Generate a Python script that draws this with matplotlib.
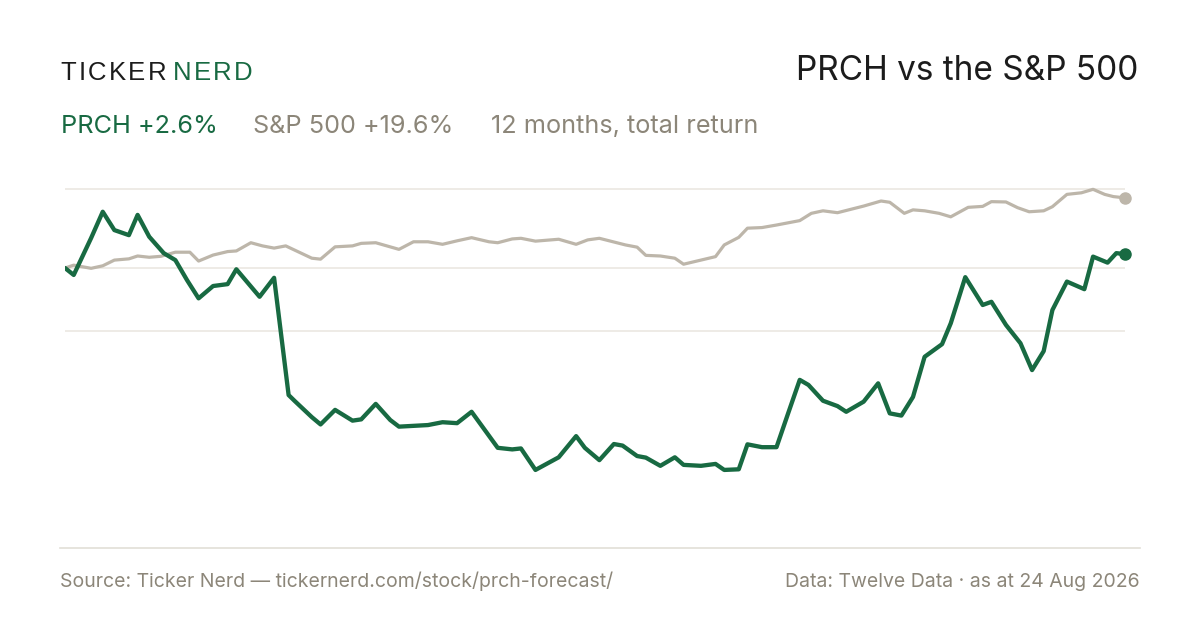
import matplotlib
matplotlib.use("Agg")
import matplotlib.pyplot as plt

# days since start of the 12-month window, and cumulative return (%)
prch_days = [0, 3, 9, 13, 17, 22, 25, 29, 34, 38, 42, 46, 51, 56, 59, 67, 72,
             77, 79, 85, 88, 93, 99, 102, 107, 112, 115, 125, 130, 135, 140,
             149, 154, 157, 162, 170, 176, 179, 184, 189, 192, 197, 200, 205,
             210, 213, 219, 224, 227, 232, 235, 240, 245, 249, 253, 256, 261,
             266, 269, 275, 280, 284, 288, 292, 296, 302, 305, 310, 316, 319,
             324, 329, 333, 337, 340, 345, 351, 354, 359, 362, 365]
prch_ret = [0.0, -2.2, 9.5, 17.8, 12.0, 10.4, 16.8, 9.9, 4.7, 2.5, -3.8, -9.6,
            -5.7, -5.1, -0.4, -9.1, -3.1, -40.2, -42.0, -47.2, -49.5, -44.9,
            -48.3, -47.9, -43.0, -48.1, -50.2, -49.7, -48.8, -49.1, -45.5,
            -56.9, -57.4, -57.1, -63.9, -59.9, -53.2, -56.9, -60.8, -55.7,
            -56.2, -59.5, -60.0, -62.6, -59.9, -62.3, -62.6, -62.0, -63.9,
            -63.7, -55.8, -56.7, -56.7, -46.0, -35.4, -37.0, -42.0, -43.7,
            -45.5, -42.3, -36.5, -46.0, -46.7, -40.8, -28.1, -24.1, -17.5,
            -2.9, -11.7, -10.7, -18.0, -23.8, -32.3, -26.3, -13.3, -4.3, -6.7,
            3.6, 1.7, 4.7, 4.4]

spx_days = [0, 3, 9, 13, 17, 22, 25, 29, 33, 38, 43, 46, 51, 56, 59, 64, 68,
            72, 76, 82, 85, 88, 93, 99, 102, 107, 115, 120, 125, 130, 135, 140,
            146, 149, 154, 157, 162, 170, 176, 180, 184, 193, 197, 200, 205,
            210, 213, 224, 227, 232, 235, 240, 245, 253, 257, 261, 266, 275,
            281, 284, 289, 292, 296, 301, 305, 311, 316, 319, 324, 328, 332,
            337, 340, 345, 350, 354, 358, 361, 365]
spx_ret = [0.0, 0.9, -0.1, 0.7, 2.5, 2.9, 3.8, 3.4, 3.7, 5.0, 5.0, 2.2, 4.1,
           5.2, 5.4, 8.0, 7.0, 6.3, 7.0, 4.4, 3.1, 2.8, 6.7, 7.0, 7.8, 8.0,
           5.9, 8.3, 8.3, 7.5, 8.6, 9.6, 8.3, 8.0, 9.2, 9.4, 8.5, 9.1, 7.5,
           8.9, 9.4, 7.3, 6.6, 4.0, 3.8, 3.1, 1.2, 3.6, 7.3, 9.7, 12.6, 12.8,
           13.6, 15.0, 17.3, 18.1, 17.5, 19.6, 21.2, 20.8, 17.3, 18.4, 18.1,
           17.3, 16.2, 19.2, 19.5, 21.0, 20.9, 19.1, 17.8, 18.1, 19.4, 23.3,
           23.8, 24.9, 23.3, 22.6, 22.2]

grid_levels = [25, 0, -20]

GREEN = "#186a42"
SPX_GREY = "#bdb6aa"
TEXT_GREY = "#8c8679"
DARK = "#1c1c1c"

plt.rcParams["font.family"] = ["Inter", "DejaVu Sans"]

W, H = 1200, 630
fig = plt.figure(figsize=(W / 100, H / 100), dpi=100)
fig.patch.set_facecolor("white")


def px(x, y):
    return x / W, 1 - y / H


# plot area 65..1125 px wide, 180..490 px tall
ax = fig.add_axes([65 / W, 1 - 490 / H, 1060 / W, 310 / H])
ax.set_xlim(0, 365)
ax.set_ylim(-70.25, 27.85)
ax.axis("off")

for g in grid_levels:
    ax.axhline(g, color="#ebe8e2", lw=1.2, zorder=1)

ax.plot(spx_days, spx_ret, color=SPX_GREY, lw=2.3, zorder=2,
        solid_joinstyle="round", solid_capstyle="round")
ax.plot(prch_days, prch_ret, color=GREEN, lw=3.1, zorder=3,
        solid_joinstyle="round", solid_capstyle="round")
ax.plot(spx_days[-1], spx_ret[-1], "o", color=SPX_GREY, ms=8, zorder=4,
        clip_on=False)
ax.plot(prch_days[-1], prch_ret[-1], "o", color=GREEN, ms=8, zorder=4,
        clip_on=False)

# separator above footer
fig.add_artist(plt.Line2D([60 / W, 1140 / W], [1 - 548 / H] * 2,
                          color="#e2dfd7", lw=1.2))

# logo with letter spacing
fig.canvas.draw()
renderer = fig.canvas.get_renderer()
cx = 60
for word, col in (("TICKER", DARK), ("NERD", GREEN)):
    for ch in word:
        t = fig.text(*px(cx, 80), ch, fontsize=18.5, color=col,
                     va="baseline", ha="left", family="Liberation Sans")
        bb = t.get_window_extent(renderer)
        cx += bb.width + 2.4
    cx += 4

fig.text(*px(1138, 80), "PRCH vs the S&P 500", fontsize=24, color=DARK,
         ha="right", va="baseline")

fig.text(*px(61, 133), "PRCH +2.6%", fontsize=18.2, color=GREEN,
         va="baseline")
fig.text(*px(253, 133), "S&P 500 +19.6%", fontsize=18.2, color=TEXT_GREY,
         va="baseline")
fig.text(*px(491, 133), "12 months, total return", fontsize=18.2,
         color=TEXT_GREY, va="baseline")

fig.text(*px(60, 587), "Source: Ticker Nerd \u2014 tickernerd.com/stock/prch-forecast/",
         fontsize=14, color=TEXT_GREY, va="baseline")
fig.text(*px(1140, 587), "Data: Twelve Data \u00b7 as at 24 Aug 2026",
         fontsize=14, color=TEXT_GREY, va="baseline", ha="right")

fig.savefig("out.png", dpi=100, facecolor="white")
